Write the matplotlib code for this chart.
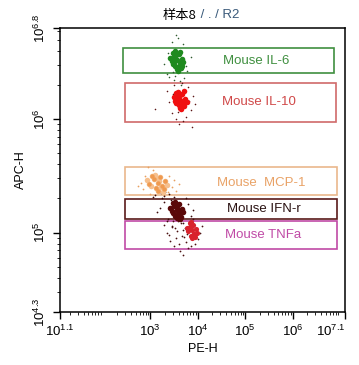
import numpy as np
import matplotlib
matplotlib.use("Agg")
import matplotlib.pyplot as plt
from matplotlib import ticker
from matplotlib.patches import Rectangle

plt.rcParams['font.family'] = ['Liberation Sans', 'DejaVu Sans']
plt.rcParams['mathtext.fontset'] = 'custom'
plt.rcParams['mathtext.rm'] = 'Liberation Sans'
plt.rcParams['mathtext.default'] = 'regular'

# --- data (log10 values of PE-H / APC-H) ---
x_ticks = [1.1, 3, 4, 5, 6, 7.1]
y_ticks = [4.3, 5, 6, 6.8]

# gates: name, x0, x1, y0, y1 (log10)
gate_names = ["Mouse IL-6", "Mouse IL-10", "Mouse  MCP-1", "Mouse IFN-r", "Mouse TNFa"]
gate_x0 = [2.43, 2.47, 2.47, 2.47, 2.47]
gate_x1 = [6.87, 6.91, 6.93, 6.93, 6.93]
gate_y0 = [6.404, 5.972, 5.330, 5.118, 4.854]
gate_y1 = [6.624, 6.316, 5.576, 5.295, 5.101]
label_x = [5.23, 5.29, 5.33, 5.40, 5.37]
label_y = [6.51, 6.15, 5.44, 5.21, 4.98]

# cluster cores
il6_pe = [3.56, 3.50, 3.62, 3.45, 3.67, 3.53, 3.60, 3.48, 3.64, 3.56, 3.42, 3.70, 3.52, 3.59, 3.55, 3.47, 3.63, 3.58, 3.51, 3.66]
il6_apc = [6.52, 6.55, 6.49, 6.51, 6.53, 6.47, 6.57, 6.58, 6.45, 6.44, 6.54, 6.50, 6.60, 6.46, 6.56, 6.48, 6.59, 6.42, 6.50, 6.47]
il10_pe = [3.63, 3.57, 3.69, 3.52, 3.74, 3.60, 3.66, 3.55, 3.71, 3.63, 3.50, 3.77, 3.58, 3.68, 3.62, 3.54, 3.72, 3.65, 3.59, 3.70]
il10_apc = [6.17, 6.20, 6.14, 6.16, 6.18, 6.12, 6.22, 6.23, 6.11, 6.10, 6.19, 6.15, 6.24, 6.13, 6.21, 6.14, 6.25, 6.09, 6.17, 6.12]
mcp1_pe = [3.16, 3.08, 3.24, 2.98, 3.32, 3.12, 3.20, 3.04, 3.28, 3.16, 2.94, 3.36, 3.10, 3.22, 3.14, 3.02, 3.26, 3.18]
mcp1_apc = [5.44, 5.47, 5.41, 5.43, 5.45, 5.39, 5.49, 5.50, 5.38, 5.37, 5.46, 5.42, 5.51, 5.40, 5.48, 5.41, 5.36, 5.45]
ifn_pe = [3.56, 3.50, 3.62, 3.45, 3.67, 3.53, 3.60, 3.48, 3.64, 3.56, 3.42, 3.70, 3.52, 3.59, 3.55, 3.47, 3.63, 3.58]
ifn_apc = [5.20, 5.23, 5.17, 5.19, 5.21, 5.15, 5.25, 5.26, 5.14, 5.13, 5.22, 5.18, 5.27, 5.16, 5.24, 5.17, 5.12, 5.21]
tnf_pe = [3.88, 3.83, 3.93, 3.80, 3.96, 3.86, 3.91, 3.84, 3.94, 3.88, 3.78, 3.98, 3.85, 3.90]
tnf_apc = [5.02, 5.05, 4.99, 5.01, 5.03, 4.97, 5.07, 5.08, 4.96, 4.95, 5.04, 5.00, 5.09, 4.98]

# sparse events around each cluster
il6_sp_pe = [3.35, 3.78, 3.40, 3.72, 3.50, 3.62, 3.30, 3.85, 3.45, 3.68, 3.58, 3.52, 3.75, 3.38, 3.64, 3.55, 3.48]
il6_sp_apc = [6.40, 6.42, 6.37, 6.36, 6.34, 6.33, 6.48, 6.55, 6.68, 6.66, 6.71, 6.38, 6.47, 6.58, 6.30, 6.74, 6.41]
il10_sp_pe = [3.40, 3.90, 3.45, 3.85, 3.55, 3.75, 3.35, 3.95, 3.50, 3.80, 3.60, 3.70, 3.48, 3.82, 3.66, 3.58, 3.10, 3.88]
il10_sp_apc = [6.15, 6.20, 6.05, 6.08, 6.00, 6.02, 6.25, 6.13, 6.30, 6.28, 5.96, 5.98, 6.22, 6.16, 6.32, 6.06, 6.09, 5.93]
mcp1_sp_pe = [2.80, 3.50, 2.85, 3.45, 3.00, 3.40, 2.90, 3.60, 3.30, 2.75, 3.05, 3.55, 2.95, 3.38]
mcp1_sp_apc = [5.44, 5.46, 5.38, 5.40, 5.34, 5.50, 5.50, 5.43, 5.33, 5.41, 5.55, 5.37, 5.58, 5.36]
ifn_sp_pe = [3.20, 3.30, 3.80, 3.85, 3.25, 3.40, 3.75, 3.35, 3.15, 3.90, 3.45, 3.70, 3.28, 3.38, 3.50, 3.10, 3.22, 3.32, 3.05, 3.44]
ifn_sp_apc = [5.22, 5.32, 5.25, 5.15, 5.30, 5.34, 5.30, 5.10, 5.18, 5.20, 5.06, 5.08, 5.27, 5.12, 5.31, 5.33, 5.35, 5.36, 5.31, 5.29]
tnf_sp_pe = [3.35, 3.45, 3.55, 3.65, 3.75, 4.05, 4.10, 3.50, 3.60, 3.70, 3.40, 3.95, 4.00, 3.80, 3.62, 3.58, 3.48, 3.72, 3.85, 3.68, 3.52, 3.78, 3.90, 3.42, 3.30, 3.57, 3.66, 3.74]
tnf_sp_apc = [5.00, 5.05, 4.95, 5.08, 4.92, 5.00, 5.06, 4.88, 4.90, 5.02, 4.98, 4.90, 4.94, 4.86, 4.84, 5.10, 5.10, 4.96, 4.88, 4.80, 5.04, 4.99, 5.12, 4.93, 5.07, 5.01, 4.97, 5.04]

gate_edge = ['#3f8f3f', '#d06a6a', '#eab88c', '#5a1a1a', '#c04aa6']
text_col = ['#3f8f3f', '#d04848', '#e9a266', '#2a1212', '#c04aa6']

fig = plt.figure(figsize=(3.59, 3.65), dpi=100)
ax = fig.add_axes([0.167, 0.145, 0.794, 0.778])
ax.set_xscale('log')
ax.set_yscale('log')
ax.set_xlim(10 ** 1.1, 10 ** 7.1)
ax.set_ylim(10 ** 4.3, 10 ** 6.8)

# gates
for i in range(len(gate_names)):
    x0, x1 = 10 ** gate_x0[i], 10 ** gate_x1[i]
    y0, y1 = 10 ** gate_y0[i], 10 ** gate_y1[i]
    ax.add_patch(Rectangle((x0, y0), x1 - x0, y1 - y0, fill=False,
                           edgecolor=gate_edge[i], linewidth=1.2, zorder=2))
    ax.text(10 ** label_x[i], 10 ** label_y[i], gate_names[i], color=text_col[i],
            fontsize=9.5, ha='center', va='center', zorder=3)

def p(v):
    return 10 ** np.array(v)

# sparse events (small dark dots)
ax.scatter(p(il6_sp_pe), p(il6_sp_apc), s=1.3, c='#2f5a2f', lw=0, zorder=4)
ax.scatter(p(il10_sp_pe), p(il10_sp_apc), s=1.3, c='#5a1515', lw=0, zorder=4)
ax.scatter(p(mcp1_sp_pe), p(mcp1_sp_apc), s=1.6, c='#e8a060', lw=0, zorder=4)
ax.scatter(p(ifn_sp_pe), p(ifn_sp_apc), s=1.6, c='#3a0a0a', lw=0, zorder=4)
ax.scatter(p(tnf_sp_pe), p(tnf_sp_apc), s=1.6, c='#4a1010', lw=0, zorder=4)

# cores
ax.scatter(p(il6_pe), p(il6_apc), s=16, c='#1f8a1f', lw=0, zorder=5)
ax.scatter(p(il10_pe), p(il10_apc), s=16, c='#f01010', lw=0, zorder=5)
ax.scatter(p(mcp1_pe), p(mcp1_apc), s=16, c='#f6c08e', lw=0, zorder=5)
ax.scatter(p(mcp1_pe[:10]), p(mcp1_apc[:10]), s=10, c='#ef9a50', lw=0, zorder=6)
ax.scatter(p(ifn_pe), p(ifn_apc), s=16, c='#5a0808', lw=0, zorder=5)
ax.scatter(p(tnf_pe), p(tnf_apc), s=14, c='#d8232c', lw=0, zorder=5)

# axes styling
ax.xaxis.set_major_locator(ticker.FixedLocator([10 ** t for t in x_ticks]))
ax.xaxis.set_major_formatter(ticker.FixedFormatter(
    [r'$10^{%g}$' % t for t in x_ticks]))
ax.yaxis.set_major_locator(ticker.FixedLocator([10 ** t for t in y_ticks]))
ax.yaxis.set_major_formatter(ticker.FixedFormatter(
    [r'$10^{%g}$' % t for t in y_ticks]))
for a in (ax.xaxis, ax.yaxis):
    a.set_minor_locator(ticker.LogLocator(base=10, subs=np.arange(2, 10)))
    a.set_minor_formatter(ticker.NullFormatter())
ax.tick_params(which='major', length=5, width=1, labelsize=9.5, direction='out')
ax.tick_params(which='minor', length=2.5, width=0.6, direction='out')
for lbl in ax.get_yticklabels():
    lbl.set_rotation(90)
    lbl.set_va('center')
xl = ax.get_xticklabels()
xl[-1].set_ha('right')
for s in ax.spines.values():
    s.set_linewidth(1.1)

ax.set_xlabel('PE-H', fontsize=9, labelpad=3)
ax.set_ylabel('APC-H', fontsize=9, labelpad=4)

cjk = ['Noto Sans CJK SC', 'DejaVu Sans']
fig.text(0.548, 0.958, '样本8', family=cjk, fontsize=9.5, ha='right', va='center')
fig.text(0.550, 0.958, ' / . / R2', family=['Liberation Sans', 'DejaVu Sans'],
         fontsize=9.5, ha='left', va='center', color='#3a5a7a')

fig.savefig('out.png', dpi=100)
